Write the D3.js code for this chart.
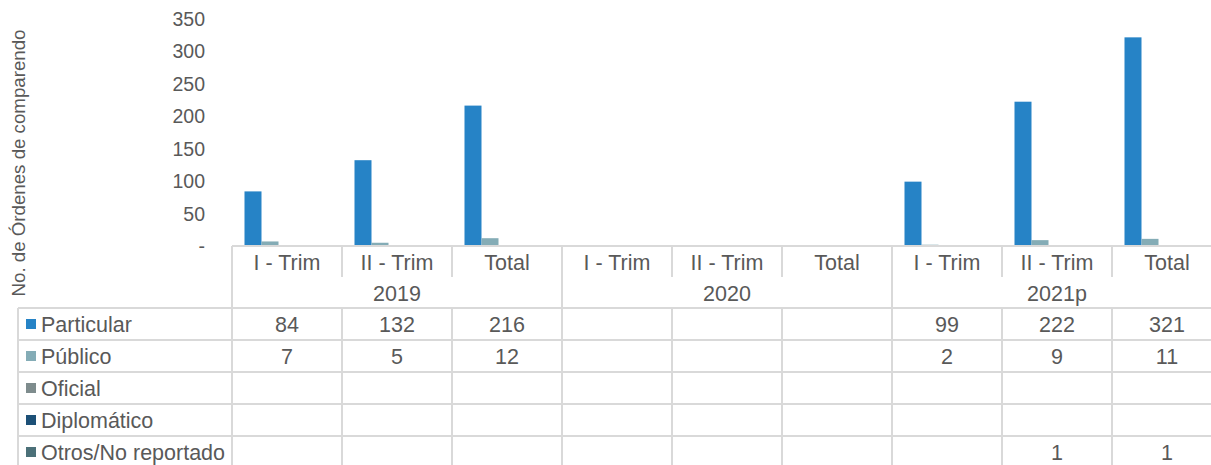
<!DOCTYPE html>
<html lang="es">
<head>
  <meta charset="UTF-8">
  <title>Órdenes de comparendo</title>
  <style>
    html, body {
      margin: 0;
      padding: 0;
      background-color: #ffffff;
    }

    svg {
      display: block;
      font-family: "Liberation Sans", Arial, sans-serif;
    }

    .grid-line {
      stroke: #d9d9d9;
      stroke-width: 2;
      shape-rendering: crispEdges;
    }

    .label {
      fill: #595959;
    }
  </style>
</head>
<body>
  <script src="https://cdn.jsdelivr.net/npm/d3@7"></script>
  <script>
    const years = ['2019', '2020', '2021p']
    const periods = ['I - Trim', 'II - Trim', 'Total']
    const yTicks = [0, 50, 100, 150, 200, 250, 300, 350]

    const seriesNames = ['Particular', 'Público', 'Oficial', 'Diplomático', 'Otros/No reportado']
    const seriesColors = ['#2683c6', '#84acb6', '#7e8c8d', '#1d5077', '#4b7078']

    // one value per column: 2019 (I, II, Total), 2020 (I, II, Total), 2021p (I, II, Total)
    const particular = [84, 132, 216, null, null, null, 99, 222, 321]
    const publico = [7, 5, 12, null, null, null, 2, 9, 11]
    const oficial = [null, null, null, null, null, null, null, null, null]
    const diplomatico = [null, null, null, null, null, null, null, null, null]
    const otros = [null, null, null, null, null, null, null, 1, 1]

    const seriesValues = [particular, publico, oficial, diplomatico, otros]

    const width = 1211,
          height = 465,
          plotLeft = 232,
          plotRight = 1222,
          tableLeft = 18,
          rowHeight = 32,
          dataTop = 308,
          tableFont = '21.5px'

    const columns = years.flatMap(y => periods.map(p => `${y}|${p}`))

    const x = d3.scaleBand()
      .domain(columns)
      .range([plotLeft, plotRight])

    const xInner = d3.scaleBand()
      .domain(seriesNames)
      .range([0, x.bandwidth()])
      .paddingOuter(0.735)

    const y = d3.scaleLinear()
      .domain([0, 350])
      .range([246, 18.5])

    const svg = d3.select('body')
      .append('svg')
      .attr('width', width)
      .attr('height', height)

    // y axis (labels only, no line)
    const yAxis = d3.axisLeft(y)
      .tickValues(yTicks)
      .tickSize(0)
      .tickPadding(0)
      .tickFormat(d => d === 0 ? '- ' : d)

    const yAxisG = svg.append('g')
      .attr('transform', 'translate(205,0)')
      .call(yAxis)

    yAxisG.select('.domain').remove()
    yAxisG.selectAll('text')
      .attr('class', 'label')
      .attr('fill', null)
      .style('font-size', '19.5px')
      .attr('dy', '0.35em')

    svg.append('text')
      .attr('class', 'label')
      .attr('transform', 'translate(25,163) rotate(-90)')
      .attr('text-anchor', 'middle')
      .style('font-size', '18.7px')
      .text('No. de Órdenes de comparendo')

    // bars
    seriesNames.forEach((name, si) => {
      svg.append('g')
        .selectAll('rect')
        .data(seriesValues[si].map((v, i) => ({ col: columns[i], v })).filter(d => d.v != null))
        .enter()
          .append('rect')
          .attr('x', d => x(d.col) + xInner(name))
          .attr('width', xInner.bandwidth())
          .attr('y', d => y(d.v))
          .attr('height', d => y(0) - y(d.v))
          .attr('fill', seriesColors[si])
    })

    // data table
    const grid = svg.append('g')
    const dataBottom = dataTop + rowHeight * seriesNames.length

    // horizontal lines
    grid.append('line').attr('class', 'grid-line')
      .attr('x1', plotLeft).attr('x2', plotRight).attr('y1', y(0)).attr('y2', y(0))
    d3.range(seriesNames.length + 1).forEach(i => {
      grid.append('line').attr('class', 'grid-line')
        .attr('x1', tableLeft).attr('x2', plotRight)
        .attr('y1', dataTop + i * rowHeight).attr('y2', dataTop + i * rowHeight)
    })

    // vertical lines: inner ones skip the year row
    grid.append('line').attr('class', 'grid-line')
      .attr('x1', tableLeft).attr('x2', tableLeft).attr('y1', dataTop).attr('y2', dataBottom)
    columns.forEach((c, i) => {
      const groupEdge = i % periods.length === 0
      if (groupEdge) {
        grid.append('line').attr('class', 'grid-line')
          .attr('x1', x(c)).attr('x2', x(c)).attr('y1', y(0)).attr('y2', dataBottom)
      } else {
        grid.append('line').attr('class', 'grid-line')
          .attr('x1', x(c)).attr('x2', x(c)).attr('y1', y(0)).attr('y2', 277)
        grid.append('line').attr('class', 'grid-line')
          .attr('x1', x(c)).attr('x2', x(c)).attr('y1', dataTop).attr('y2', dataBottom)
      }
    })
    grid.append('line').attr('class', 'grid-line')
      .attr('x1', plotRight).attr('x2', plotRight).attr('y1', y(0)).attr('y2', dataBottom)

    // category labels
    svg.append('g')
      .selectAll('text')
      .data(columns)
      .enter()
        .append('text')
        .attr('class', 'label')
        .attr('x', d => x(d) + x.bandwidth() / 2)
        .attr('y', 262)
        .attr('dy', '0.35em')
        .attr('text-anchor', 'middle')
        .style('font-size', tableFont)
        .text(d => d.split('|')[1])

    svg.append('g')
      .selectAll('text')
      .data(years)
      .enter()
        .append('text')
        .attr('class', 'label')
        .attr('x', d => x(`${d}|${periods[1]}`) + x.bandwidth() / 2)
        .attr('y', 293)
        .attr('dy', '0.35em')
        .attr('text-anchor', 'middle')
        .style('font-size', tableFont)
        .text(d => d)

    // rows: legend key, name and values
    seriesNames.forEach((name, si) => {
      const cy = dataTop + si * rowHeight + rowHeight / 2
      const row = svg.append('g')

      row.append('rect')
        .attr('x', 26)
        .attr('y', cy - 5)
        .attr('width', 10)
        .attr('height', 10)
        .attr('fill', seriesColors[si])

      row.append('text')
        .attr('class', 'label')
        .attr('x', 41)
        .attr('y', cy)
        .attr('dy', '0.35em')
        .style('font-size', tableFont)
        .text(name)

      row.selectAll('text.value')
        .data(seriesValues[si].map((v, i) => ({ col: columns[i], v })).filter(d => d.v != null))
        .enter()
          .append('text')
          .attr('class', 'label value')
          .attr('x', d => x(d.col) + x.bandwidth() / 2)
          .attr('y', cy)
          .attr('dy', '0.35em')
          .attr('text-anchor', 'middle')
          .style('font-size', tableFont)
          .text(d => d.v)
    })
  </script>
</body>
</html>
